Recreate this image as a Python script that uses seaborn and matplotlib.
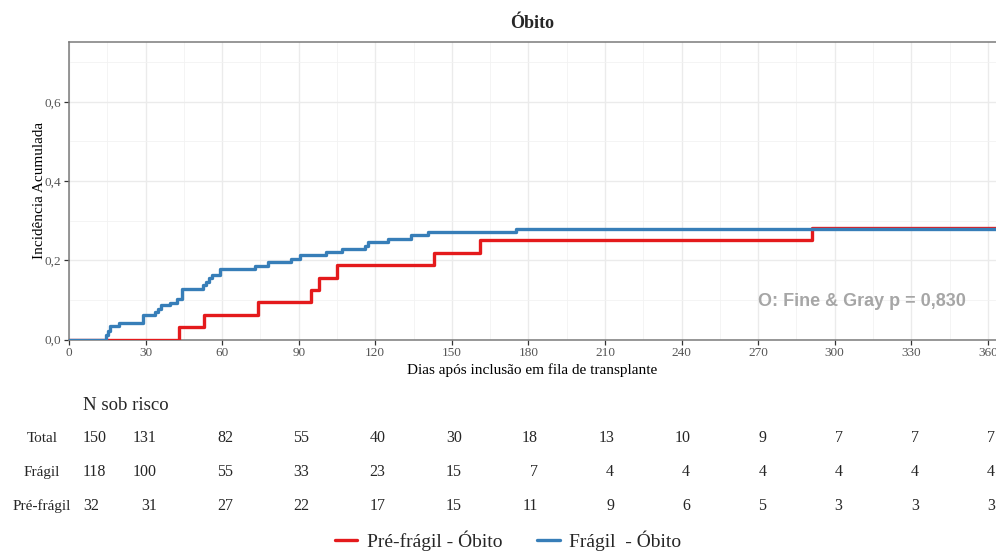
import matplotlib
matplotlib.use("Agg")
import matplotlib.pyplot as plt
import matplotlib.transforms as mtransforms
from matplotlib.ticker import MultipleLocator, FuncFormatter
import seaborn as sns
import pandas as pd

# ---------------- data ----------------
groups = ["Pré-frágil - Óbito", "Frágil  - Óbito"]
colors = ["#E41A1C", "#377EB8"]

t_prefragil = [0, 43.1, 53.0, 73.9, 95.0, 97.9, 105.0, 142.9, 161.0, 291.0, 363.2]
cif_prefragil = [0, 0.031, 0.063, 0.094, 0.125, 0.156, 0.188, 0.219, 0.250, 0.281, 0.281]

t_fragil = [0, 14.6, 15.3, 16.0, 19.5, 28.8, 33.8, 35.0, 36.0, 39.6, 42.5, 44.2,
            52.6, 53.8, 55.0, 56.0, 59.0, 73.0, 78.0, 87.0, 90.5, 100.7, 106.8,
            115.8, 117.0, 124.8, 134.0, 140.8, 175.0, 363.2]
cif_fragil = [0, 0.011, 0.022, 0.034, 0.042, 0.061, 0.070, 0.078, 0.086, 0.093,
              0.103, 0.128, 0.137, 0.145, 0.154, 0.162, 0.178, 0.186, 0.195, 0.203,
              0.212, 0.220, 0.229, 0.237, 0.246, 0.254, 0.263, 0.271, 0.279, 0.279]

risk_times = [0, 30, 60, 90, 120, 150, 180, 210, 240, 270, 300, 330, 360]
risk_rows = ["Total", "Frágil", "Pré-frágil"]
risk_total = [150, 131, 82, 55, 40, 30, 18, 13, 10, 9, 7, 7, 7]
risk_fragil = [118, 100, 55, 33, 23, 15, 7, 4, 4, 4, 4, 4, 4]
risk_prefragil = [32, 31, 27, 22, 17, 15, 11, 9, 6, 5, 3, 3, 3]

title = "Óbito"
xlabel = "Dias após inclusão em fila de transplante"
ylabel = "Incidência Acumulada"
annot = "O: Fine & Gray p = 0,830"
x_ticks = list(range(0, 361, 30))
y_ticks = [0.0, 0.2, 0.4, 0.6]

# ---------------- figure ----------------
sns.set_theme(style="white")
plt.rcParams["font.family"] = ["Liberation Serif", "DejaVu Serif"]

W, H = 996, 551
fig = plt.figure(figsize=(W / 100, H / 100), dpi=100)
ax_l, ax_r, ax_t, ax_b = 69, 996, 42.3, 339.5
ax = fig.add_axes([ax_l / W, 1 - ax_b / H, (ax_r - ax_l) / W, (ax_b - ax_t) / H])

df = pd.concat([
    pd.DataFrame({"t": t_prefragil, "cif": cif_prefragil, "grupo": groups[0]}),
    pd.DataFrame({"t": t_fragil, "cif": cif_fragil, "grupo": groups[1]}),
])

sns.lineplot(data=df, x="t", y="cif", hue="grupo", hue_order=groups,
             palette=colors, drawstyle="steps-post", linewidth=2.4,
             estimator=None, ax=ax, zorder=3)

ax.set_xlim(0, 363.2)
ax.set_ylim(0, 0.75)
ax.set_xticks(x_ticks)
ax.set_yticks(y_ticks)
ax.xaxis.set_minor_locator(MultipleLocator(15))
ax.yaxis.set_minor_locator(MultipleLocator(0.1))
ax.yaxis.set_major_formatter(FuncFormatter(lambda v, p: f"{v:.1f}".replace(".", ",")))
ax.grid(which="major", color="#EBEBEB", linewidth=1.0, zorder=0)
ax.grid(which="minor", color="#F2F2F2", linewidth=0.6, zorder=0)
ax.set_axisbelow(True)
for side in ["top", "left", "bottom"]:
    ax.spines[side].set_color("#7A7A7A")
    ax.spines[side].set_linewidth(1.1)
ax.spines["right"].set_visible(False)
ax.tick_params(axis="both", which="major", direction="out", length=3.5, width=0.9,
               color="#333333", labelcolor="#555555", labelsize=9.5, pad=2,
               bottom=True, left=True)
ax.tick_params(which="minor", length=0)

ax.set_xlabel(xlabel, fontsize=11, color="black", labelpad=3)
ax.set_ylabel(ylabel, fontsize=11, color="black", labelpad=-1)
ax.set_title(title, fontsize=13, fontweight="bold", pad=10)

ax.text(269.8, 0.097, annot, fontsize=13, fontweight="bold", color="#A6A6A6",
        family=["Liberation Sans", "DejaVu Sans"], ha="left", va="center", zorder=4)

# legend
sns.move_legend(ax, "center",
                bbox_to_anchor=((508 - ax_l) / (ax_r - ax_l), -(541 - ax_b) / (ax_b - ax_t)),
                ncol=2, frameon=False, title=None, fontsize=14,
                handlelength=1.15, handletextpad=0.5, columnspacing=1.8)

# risk table (its own slightly narrower time scale, like the reference table panel)
trans = mtransforms.blended_transform_factory(ax.transData, fig.transFigure)
fig.text(83 / W, 1 - 410 / H, "N sob risco", fontsize=13.5, ha="left", va="baseline")
row_vals = [risk_total, risk_fragil, risk_prefragil]
row_base = [442, 476, 510]
for name, vals, yb in zip(risk_rows, row_vals, row_base):
    fig.text(42 / W, 1 - yb / H, name, fontsize=11, ha="center", va="baseline")
    for i, (tt, n) in enumerate(zip(risk_times, vals)):
        if i == 0:
            ax.text(5.5, 1 - yb / H, str(n), transform=trans, fontsize=11.5,
                    ha="left", va="baseline", clip_on=False)
        else:
            ax.text(4.6 + 0.995 * tt, 1 - yb / H, str(n), transform=trans, fontsize=11.5,
                    ha="right", va="baseline", clip_on=False)

fig.savefig("out.png", dpi=100)
